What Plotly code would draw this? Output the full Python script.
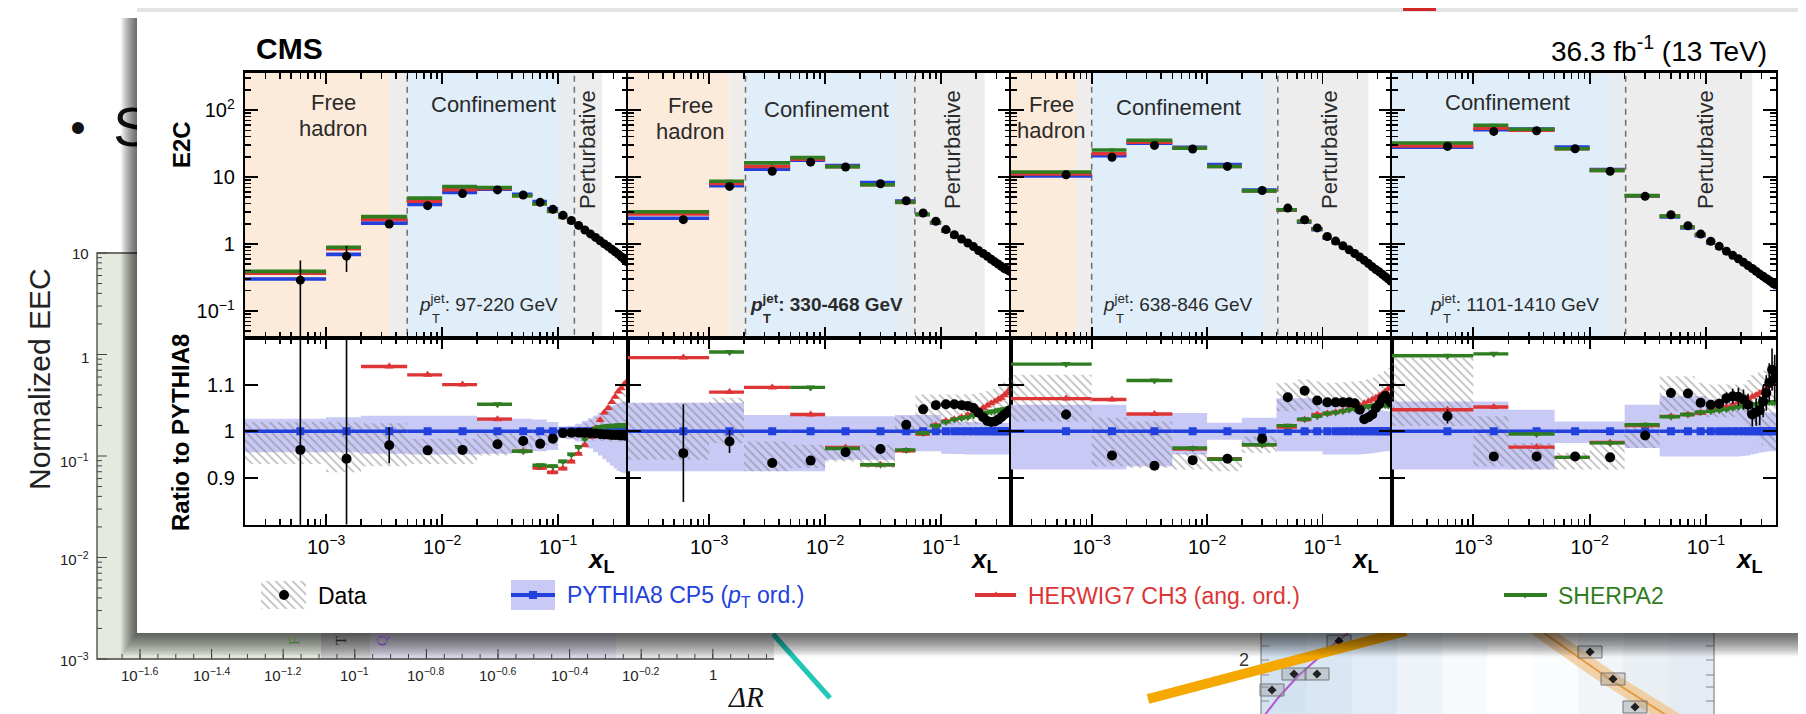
import math
import plotly.graph_objects as go

W, H = 1806, 714
FONT = "Liberation Sans, Arial, Helvetica, sans-serif"

# ------------------------------------------------------------------ data
bin_edges = [0.0002, 0.001, 0.002, 0.005, 0.01, 0.02, 0.04, 0.06, 0.08, 0.10,
             0.12, 0.14, 0.16, 0.18, 0.20, 0.22, 0.24, 0.26, 0.28, 0.30,
             0.32, 0.34, 0.36, 0.38, 0.40]
pt_labels = ["97-220", "330-468", "638-846", "1101-1410"]
x_tick_vals = [1e-3, 1e-2, 1e-1]
x_tick_text = ["10<sup>\u22123</sup>", "10<sup>\u22122</sup>", "10<sup>\u22121</sup>"]
e2c_tick_vals = [0.1, 1, 10, 100]
e2c_tick_text = ["10<sup>\u22121</sup>", "1", "10", "10<sup>2</sup>"]
ratio_tick_vals = [0.9, 1.0, 1.1]
ratio_tick_text = ["0.9", "1", "1.1"]

# PYTHIA8 CP5 E2C (absolute)
pythia_97 = [0.30, 0.70, 2.05, 3.9, 5.9, 6.6, 5.5, 4.3, 3.35, 2.7, 2.25, 1.9, 1.62, 1.42,
             1.26, 1.12, 1.01, 0.92, 0.84, 0.77, 0.71, 0.65, 0.60, 0.55]
pythia_330 = [2.42, 7.4, 13.1, 17.8, 14.8, 8.25, 4.37, 2.77, 2.07, 1.55, 1.30, 1.12, 0.98, 0.87,
              0.77, 0.70, 0.64, 0.58, 0.53, 0.49, 0.45, 0.415, 0.395, 0.373]
pythia_638 = [10.4, 20.8, 32.0, 27.9, 15.3, 6.4, 3.2, 2.12, 1.63, 1.22, 1.04, 0.885, 0.77, 0.68,
              0.61, 0.555, 0.495, 0.44, 0.395, 0.363, 0.33, 0.302, 0.282, 0.263]
pythia_1101 = [27.8, 50.8, 52.0, 28.0, 12.9, 5.2, 2.53, 1.73, 1.33, 1.04, 0.87, 0.73, 0.63, 0.56,
               0.50, 0.45, 0.415, 0.375, 0.34, 0.31, 0.282, 0.258, 0.234, 0.224]

# ratios to PYTHIA8
data_97 = [0.960, 0.941, 0.970, 0.959, 0.960, 0.972, 0.979, 0.973, 0.984, 0.996, 0.997, 0.997,
           0.997, 0.996, 0.995, 0.994, 0.993, 0.993, 0.992, 0.992, 0.992, 0.991, 0.991, 0.990]
data_330 = [0.953, 0.978, 0.932, 0.937, 0.955, 0.962, 1.014, 1.047, 1.056, 1.058, 1.058, 1.056,
            1.054, 1.050, 1.040, 1.030, 1.022, 1.020, 1.021, 1.025, 1.030, 1.036, 1.040, 1.045]
data_638 = [1.036, 0.948, 0.926, 0.938, 0.941, 0.984, 1.073, 1.087, 1.066, 1.062, 1.062, 1.062,
            1.062, 1.060, 1.046, 1.026, 1.030, 1.036, 1.050, 1.058, 1.070, 1.076, 1.068, 1.062]
data_1101 = [1.032, 0.946, 0.946, 0.946, 0.944, 0.991, 1.082, 1.081, 1.061, 1.057, 1.059, 1.071,
             1.075, 1.074, 1.068, 1.057, 1.036, 1.041, 1.045, 1.064, 1.082, 1.104, 1.132, 1.114]

stat_97 = [0.97, 0.42, 0.04, 0.006, 0.005, 0.004, 0.004, 0.004, 0.004, 0.003, 0.003, 0.003,
           0.003, 0.003, 0.003, 0.003, 0.003, 0.003, 0.003, 0.003, 0.003, 0.003, 0.003, 0.003]
stat_330 = [0.11, 0.025, 0.008, 0.005, 0.004, 0.004, 0.004, 0.004, 0.004, 0.004, 0.004, 0.004,
            0.004, 0.004, 0.004, 0.005, 0.005, 0.005, 0.005, 0.005, 0.006, 0.006, 0.006, 0.006]
stat_638 = [0.01, 0.008, 0.006, 0.005, 0.004, 0.004, 0.004, 0.004, 0.004, 0.005, 0.005, 0.005,
            0.005, 0.006, 0.006, 0.006, 0.007, 0.007, 0.008, 0.008, 0.009, 0.009, 0.01, 0.01]
stat_1101 = [0.015, 0.01, 0.006, 0.005, 0.005, 0.005, 0.005, 0.006, 0.007, 0.008, 0.01, 0.012,
             0.015, 0.018, 0.02, 0.022, 0.025, 0.028, 0.03, 0.032, 0.035, 0.038, 0.04, 0.045]

herwig_97 = [1.22, 1.22, 1.139, 1.121, 1.100, 1.026, 0.957, 0.921, 0.912, 0.920, 0.935, 0.952,
             0.970, 0.988, 1.006, 1.024, 1.040, 1.050, 1.063, 1.074, 1.085, 1.092, 1.100, 1.106]
herwig_330 = [1.158, 1.084, 1.094, 1.036, 0.965, 0.928, 0.958, 0.994, 1.013, 1.022, 1.026, 1.030,
              1.035, 1.040, 1.045, 1.050, 1.055, 1.060, 1.064, 1.068, 1.072, 1.077, 1.082, 1.090]
herwig_638 = [1.070, 1.068, 1.037, 0.962, 0.941, 0.971, 1.009, 1.025, 1.036, 1.038, 1.041, 1.044,
              1.048, 1.052, 1.056, 1.060, 1.064, 1.068, 1.072, 1.076, 1.080, 1.085, 1.090, 1.095]
herwig_1101 = [1.046, 1.052, 0.966, 0.944, 0.976, 1.012, 1.032, 1.036, 1.039, 1.045, 1.048, 1.052,
               1.057, 1.062, 1.066, 1.070, 1.074, 1.078, 1.082, 1.086, 1.092, 1.098, 1.104, 1.110]

sherpa_97 = [1.30, 1.28, 1.25, 1.24, 1.22, 1.058, 0.957, 0.927, 0.925, 0.935, 0.950, 0.966,
             0.984, 0.999, 1.006, 1.009, 1.010, 1.011, 1.012, 1.012, 1.013, 1.013, 1.013, 1.013]
sherpa_330 = [1.25, 1.170, 1.24, 1.094, 0.963, 0.928, 0.960, 0.996, 1.012, 1.020, 1.025, 1.028,
              1.030, 1.034, 1.036, 1.038, 1.040, 1.042, 1.043, 1.045, 1.046, 1.047, 1.048, 1.050]
sherpa_638 = [1.144, 1.22, 1.109, 0.964, 0.940, 0.971, 1.012, 1.026, 1.032, 1.038, 1.040, 1.043,
              1.046, 1.048, 1.050, 1.052, 1.053, 1.054, 1.055, 1.056, 1.057, 1.056, 1.055, 1.054]
sherpa_1101 = [1.162, 1.166, 0.994, 0.944, 0.975, 1.014, 1.031, 1.036, 1.041, 1.043, 1.045, 1.047,
               1.050, 1.052, 1.054, 1.056, 1.057, 1.058, 1.059, 1.060, 1.061, 1.062, 1.062, 1.062]

# data systematic band (hatched), ratio units
syst_hi_97 = [1.020, 1.020, 1.017, 0.984, 0.984, 0.999, 0.991, 0.999, 0.999, 1.006, 1.008, 1.012,
              1.018, 1.024, 1.030, 1.037, 1.044, 1.052, 1.060, 1.068, 1.076, 1.084, 1.092, 1.099]
syst_lo_97 = [0.930, 0.912, 0.925, 0.930, 0.930, 0.948, 0.963, 0.970, 0.970, 0.984, 0.983, 0.982,
              0.981, 0.980, 0.980, 0.979, 0.979, 0.978, 0.978, 0.977, 0.977, 0.978, 0.980, 0.984]
syst_hi_330 = [1.061, 1.072, 0.978, 0.971, 0.968, 0.971, 1.032, 1.079, 1.079, 1.079, 1.079, 1.079,
               1.080, 1.080, 1.082, 1.084, 1.086, 1.089, 1.092, 1.096, 1.100, 1.105, 1.110, 1.115]
syst_lo_330 = [0.939, 0.975, 0.914, 0.921, 0.935, 0.921, 0.993, 1.007, 1.007, 1.014, 1.014, 1.014,
               1.014, 1.014, 1.015, 1.016, 1.017, 1.018, 1.019, 1.021, 1.023, 1.025, 1.027, 1.029]
syst_hi_638 = [1.121, 1.029, 1.021, 0.954, 0.943, 0.989, 1.104, 1.111, 1.107, 1.104, 1.104, 1.105,
               1.106, 1.107, 1.108, 1.110, 1.112, 1.115, 1.118, 1.122, 1.126, 1.130, 1.135, 1.139]
syst_lo_638 = [1.021, 0.925, 0.921, 0.918, 0.914, 0.954, 1.043, 1.046, 1.046, 1.054, 1.054, 1.054,
               1.053, 1.052, 1.051, 1.050, 1.050, 1.050, 1.052, 1.054, 1.056, 1.058, 1.060, 1.061]
syst_hi_1101 = [1.157, 1.032, 0.975, 0.954, 0.975, 1.018, 1.118, 1.118, 1.104, 1.100, 1.100, 1.100,
                1.100, 1.100, 1.100, 1.110, 1.120, 1.120, 1.130, 1.130, 1.140, 1.140, 1.150, 1.150]
syst_lo_1101 = [1.011, 0.925, 0.918, 0.918, 0.918, 0.964, 1.043, 1.043, 1.032, 1.030, 1.030, 1.030,
                1.030, 1.030, 1.020, 1.010, 1.000, 0.990, 0.980, 0.970, 0.970, 0.960, 0.960, 0.960]

# PYTHIA8 uncertainty band, ratio units
band_hi_97 = [1.027, 1.030, 1.033, 1.033, 1.033, 1.030, 1.027, 1.025, 1.020, 1.010, 1.012, 1.016,
              1.022, 1.028, 1.034, 1.040, 1.045, 1.050, 1.054, 1.057, 1.060, 1.062, 1.064, 1.065]
band_lo_97 = [0.955, 0.955, 0.952, 0.950, 0.950, 0.952, 0.955, 0.957, 0.960, 0.985, 0.983, 0.978,
              0.970, 0.963, 0.955, 0.948, 0.940, 0.933, 0.926, 0.920, 0.915, 0.912, 0.910, 0.908]
band_hi_330 = [1.061, 1.061, 1.035, 1.035, 1.032, 1.032, 1.035, 1.035, 1.035, 1.020, 1.020, 1.020,
               1.020, 1.020, 1.020, 1.019, 1.019, 1.019, 1.018, 1.018, 1.018, 1.018, 1.018, 1.018]
band_lo_330 = [0.914, 0.914, 0.914, 0.914, 0.939, 0.939, 0.957, 0.957, 0.957, 0.952, 0.951, 0.951,
               0.950, 0.950, 0.950, 0.950, 0.950, 0.950, 0.950, 0.950, 0.950, 0.950, 0.950, 0.950]
band_hi_638 = [1.057, 1.057, 1.039, 1.039, 1.018, 1.029, 1.071, 1.071, 1.071, 1.064, 1.064, 1.064,
               1.064, 1.064, 1.060, 1.056, 1.052, 1.050, 1.048, 1.046, 1.045, 1.044, 1.043, 1.043]
band_lo_638 = [0.918, 0.918, 0.925, 0.950, 0.982, 0.971, 0.957, 0.957, 0.957, 0.950, 0.950, 0.950,
               0.950, 0.950, 0.950, 0.951, 0.952, 0.953, 0.954, 0.955, 0.956, 0.957, 0.957, 0.957]
band_hi_1101 = [1.064, 1.064, 1.046, 1.021, 1.021, 1.057, 1.075, 1.075, 1.075, 1.068, 1.068, 1.068,
                1.068, 1.068, 1.068, 1.066, 1.060, 1.055, 1.050, 1.045, 1.042, 1.040, 1.040, 1.040]
band_lo_1101 = [0.918, 0.918, 0.918, 0.975, 0.975, 0.964, 0.946, 0.946, 0.946, 0.946, 0.946, 0.946,
                0.946, 0.946, 0.947, 0.948, 0.950, 0.952, 0.954, 0.955, 0.956, 0.957, 0.957, 0.957]

# physics regions (x_L values) per pT bin
free_end = [0.0035, 0.0015, 0.00073, None]
confine_start = [0.005, 0.00206, 0.001, None]
confine_end = [0.1, 0.0425, 0.03, 0.015]
pert_start = [0.138, 0.0593, 0.041, 0.0204]
pert_end = [0.24, 0.237, 0.25, 0.25]

pythia = [pythia_97, pythia_330, pythia_638, pythia_1101]
data_r = [data_97, data_330, data_638, data_1101]
stat = [stat_97, stat_330, stat_638, stat_1101]
herwig_r = [herwig_97, herwig_330, herwig_638, herwig_1101]
sherpa_r = [sherpa_97, sherpa_330, sherpa_638, sherpa_1101]
syst_hi = [syst_hi_97, syst_hi_330, syst_hi_638, syst_hi_1101]
syst_lo = [syst_lo_97, syst_lo_330, syst_lo_638, syst_lo_1101]
band_hi = [band_hi_97, band_hi_330, band_hi_638, band_hi_1101]
band_lo = [band_lo_97, band_lo_330, band_lo_638, band_lo_1101]

# ------------------------------------------------------------------ style
BLUE = "#2241DC"
RED = "#DD3535"
GREEN = "#2F7D20"
LAV = "#C9C9F6"
ORANGE_BG = "#FCEBDB"
BLUE_BG = "#E0EEFA"
GRAY_BG = "#EDEDED"
TRANS1 = "#EEEDEB"
TRANS2 = "#E7ECF1"
HATCH = dict(shape="\\", fgcolor="#7A7A7A", bgcolor="rgba(0,0,0,0)", size=6, solidity=0.28)

panel_px = [(237, 620), (620, 1003), (1003, 1384), (1384, 1768)]
TOP_PX = (64.5, 330)
RAT_PX = (330, 516.5)
XR = [math.log10(2e-4), math.log10(0.4)]
YR_TOP = [-1.404, 2.561]

centers = [(bin_edges[i] + bin_edges[i + 1]) / 2 for i in range(len(bin_edges) - 1)]


def seg_xy(vals):
    xs, ys = [], []
    for i, v in enumerate(vals):
        xs += [bin_edges[i], bin_edges[i + 1], None]
        ys += [v, v, None]
    return xs, ys


def rect_xy(lo, hi):
    xs, ys = [], []
    for i in range(len(lo)):
        a, b = bin_edges[i], bin_edges[i + 1]
        xs += [a, b, b, a, a, None]
        ys += [lo[i], lo[i], hi[i], hi[i], lo[i], None]
    return xs, ys


fig = go.Figure()


def bg(**kw):
    kw.setdefault("hoverinfo", "skip")
    kw.setdefault("showlegend", False)
    fig.add_trace(go.Scatter(xaxis="x", yaxis="y", **kw))


def box(x0, y0, x1, y1, color):
    bg(x=[x0, x1, x1, x0, x0], y=[y0, y0, y1, y1, y0], mode="lines", fill="toself",
       fillcolor=color, line=dict(width=0))


# ------------------------------------------------------------------ slide background
# left EEC plot (mostly hidden behind the pasted figure)
box(89, 245, 313, 651, "#E5EADF")
box(313, 245, 362, 651, "#CACACA")
box(362, 245, 608, 651, "#DAD6E5")
box(608, 245, 766, 651, "#E4E4E4")
bg(x=[160, 89, 89, 766], y=[245, 245, 651, 651], mode="lines", line=dict(color="#444", width=1.3))
tx, ty = [], []
for d in range(1, -4, -1):
    yv = 245 + (1 - d) * 101.5
    tx += [89, 99, None]
    ty += [yv, yv, None]
    if d > -3:
        for k in range(2, 10):
            ym = 245 + (1 - (d - 1 + math.log10(k))) * 101.5
            tx += [89, 94, None]
            ty += [ym, ym, None]
for k in range(0, 9):
    xv = 132 + 71.6 * k
    tx += [xv, xv, None]
    ty += [651, 641, None]
for k in range(-1, 36):
    xv = 132 + 17.9 * k
    if 89 < xv < 766:
        tx += [xv, xv, None]
        ty += [651, 646, None]
bg(x=tx, y=ty, mode="lines", line=dict(color="#444", width=1))

# bottom-right plot
grad = ["#D3E2F1", "#D9E6F3", "#E2ECF6", "#EDF3F9", "#F7FAFC", "#FFFFFF", "#FBFCFD",
        "#F2F5F8", "#EAEFF4", "#E5EBF2"]
sw = (1706 - 1253) / len(grad)
for i, c in enumerate(grad):
    box(1253 + i * sw, 600, 1253 + (i + 1) * sw + 0.5, 714, c)
bg(x=[1536 - 14, 1600 - 14, 1669 - 14, 1669 + 16, 1600 + 14, 1536 + 14],
   y=[625, 670, 714, 714, 670, 625], mode="lines", fill="toself",
   fillcolor="rgba(240,196,140,0.75)", line=dict(width=0))
bg(x=[1536, 1600, 1669], y=[625, 670, 714], mode="lines", line=dict(color="#E39A3C", width=2))
bg(x=[1256, 1270, 1290, 1310, 1325, 1340], y=[708, 690, 668, 650, 637, 625], mode="lines",
   line=dict(color="#B553D3", width=2))
deco_pts_x = [1264, 1286, 1309, 1331, 1582, 1605, 1627]
deco_pts_y = [682, 666, 666, 633, 644, 671, 699]
bx, byy = [], []
for xv, yv in zip(deco_pts_x, deco_pts_y):
    bx += [xv - 12, xv + 12, xv + 12, xv - 12, xv - 12, None]
    byy += [yv - 6, yv - 6, yv + 6, yv + 6, yv - 6, None]
bg(x=bx, y=byy, mode="lines", fill="toself", fillcolor="rgba(150,150,150,0.35)",
   line=dict(color="#777", width=1))
bg(x=deco_pts_x, y=deco_pts_y, mode="markers", marker=dict(color="#222", size=7, symbol="diamond"))
bg(x=[1253, 1253, None, 1706, 1706], y=[600, 714, None, 600, 714], mode="lines",
   line=dict(color="#888", width=1.2))
tkx, tky = [], []
for yv in [638, 652, 667, 679, 693, 708]:
    tkx += [1253, 1261, None, 1706, 1698, None]
    tky += [yv, yv, None, yv, yv, None]
bg(x=tkx, y=tky, mode="lines", line=dict(color="#888", width=1))

# arrows / strokes
bg(x=[765, 822], y=[626, 690], mode="lines", line=dict(color="#22C7B8", width=5))
bg(x=[1140, 1398], y=[691, 623], mode="lines", line=dict(color="#F4A800", width=10))

# bullet text (partially hidden by the pasted figure)
bg(x=[70], y=[124], mode="text", text=["\u2022"], textfont=dict(size=44, color="#111", family=FONT))
bg(x=[124], y=[124], mode="text", text=["S"], textfont=dict(size=56, color="#111", family=FONT))

# drop shadow of the pasted figure
for k in range(1, 19):
    bg(x=[129 - k * 0.9, 1806, 1806, 129 - k * 0.9, 129 - k * 0.9],
       y=[10, 10, 625 + k * 1.3, 625 + k * 1.3, 10], mode="lines", fill="toself",
       fillcolor="rgba(0,0,0,0.045)", line=dict(width=0))
box(129, 0, 1806, 5, "#E3E3E3")
box(1395, 0, 1428, 3, "#D02828")
box(129, 4, 1806, 625, "#FFFFFF")

# legend symbols
bg(x=[253, 298, 298, 253, 253], y=[573, 573, 601, 601, 573], mode="lines", fill="toself",
   fillcolor="rgba(0,0,0,0)", line=dict(width=0), fillpattern=HATCH)
bg(x=[276], y=[587], mode="markers", marker=dict(color="black", size=10))
box(503, 572, 547, 602, LAV)
bg(x=[503, 547], y=[587, 587], mode="lines", line=dict(color=BLUE, width=4))
bg(x=[525], y=[587], mode="markers", marker=dict(color=BLUE, size=8, symbol="square"))
bg(x=[967, 1008], y=[587, 587], mode="lines", line=dict(color=RED, width=4))
bg(x=[988], y=[587], mode="markers", marker=dict(color=RED, size=7, symbol="triangle-up"))
bg(x=[1496, 1539], y=[587, 587], mode="lines", line=dict(color=GREEN, width=4))
bg(x=[1517], y=[587], mode="markers", marker=dict(color=GREEN, size=7, symbol="triangle-down"))

# ------------------------------------------------------------------ CMS panels
for i in range(4):
    nt, nr = 2 + i, 6 + i
    xt, yt, xr, yr = f"x{nt}", f"y{nt}", f"x{nr}", f"y{nr}"

    def top(**kw):
        kw.setdefault("hoverinfo", "skip")
        kw.setdefault("showlegend", False)
        fig.add_trace(go.Scatter(xaxis=xt, yaxis=yt, **kw))

    def rat(**kw):
        kw.setdefault("hoverinfo", "skip")
        kw.setdefault("showlegend", False)
        fig.add_trace(go.Scatter(xaxis=xr, yaxis=yr, **kw))

    ylo, yhi = 1e-3, 1e4
    regions = []
    if free_end[i] is not None:
        regions.append((1e-4, free_end[i], ORANGE_BG))
        regions.append((free_end[i], confine_start[i], TRANS1))
        regions.append((confine_start[i], confine_end[i], BLUE_BG))
    else:
        regions.append((1e-4, confine_end[i], BLUE_BG))
    regions.append((confine_end[i], pert_start[i], TRANS2))
    regions.append((pert_start[i], pert_end[i], GRAY_BG))
    for a, b, c in regions:
        top(x=[a, b, b, a, a], y=[ylo, ylo, yhi, yhi, ylo], mode="lines", fill="toself",
            fillcolor=c, line=dict(width=0))
    dashes = [d for d in (confine_start[i], pert_start[i]) if d is not None]
    for d in dashes:
        top(x=[d, d], y=[ylo, yhi], mode="lines", line=dict(color="#6E6E6E", width=1.5, dash="6px,5px"))

    py_ = pythia[i]
    her = [p * r for p, r in zip(py_, herwig_r[i])]
    she = [p * r for p, r in zip(py_, sherpa_r[i])]
    dat = [p * r for p, r in zip(py_, data_r[i])]
    for vals, col in ((py_, BLUE), (her, RED), (she, GREEN)):
        sx, sy = seg_xy(vals)
        top(x=sx, y=sy, mode="lines", line=dict(color=col, width=3.6))
    top(x=centers, y=she, mode="markers", marker=dict(color=GREEN, size=6, symbol="triangle-down"))
    top(x=centers, y=dat, mode="markers", marker=dict(color="black", size=9),
        error_y=dict(type="data", array=[d * s for d, s in zip(dat, stat[i])], color="black",
                     thickness=1.6, width=0))

    # ratio panel
    bx_, by_ = rect_xy(band_lo[i], band_hi[i])
    rat(x=bx_, y=by_, mode="lines", fill="toself", fillcolor=LAV, line=dict(width=0))
    hx, hy = rect_xy(syst_lo[i], syst_hi[i])
    rat(x=hx, y=hy, mode="lines", fill="toself", fillcolor="rgba(0,0,0,0)", line=dict(width=0),
        fillpattern=HATCH)
    ones = [1.0] * len(centers)
    sx, sy = seg_xy(ones)
    rat(x=sx, y=sy, mode="lines", line=dict(color=BLUE, width=3.6))
    rat(x=centers, y=ones, mode="markers", marker=dict(color=BLUE, size=8, symbol="square"))
    for vals, col, sym in ((herwig_r[i], RED, "triangle-up"), (sherpa_r[i], GREEN, "triangle-down")):
        sx, sy = seg_xy(vals)
        rat(x=sx, y=sy, mode="lines", line=dict(color=col, width=3.4))
        rat(x=centers, y=vals, mode="markers", marker=dict(color=col, size=8, symbol=sym))
    rat(x=centers, y=data_r[i], mode="markers", marker=dict(color="black", size=10),
        error_y=dict(type="data", array=[d * s for d, s in zip(data_r[i], stat[i])], color="black",
                     thickness=1.6, width=0))

# ------------------------------------------------------------------ layout
layout = dict(width=W, height=H, autosize=False, margin=dict(l=0, r=0, t=0, b=0, pad=0),
              paper_bgcolor="white", plot_bgcolor="rgba(0,0,0,0)", showlegend=False,
              hovermode=False)
layout["xaxis"] = dict(domain=[0, 1], range=[0, W], visible=False, fixedrange=True)
layout["yaxis"] = dict(domain=[0, 1], range=[H, 0], visible=False, fixedrange=True)

x_minor = [k * 10.0 ** e for e in (-4, -3, -2, -1) for k in range(2, 10)
           if 2.05e-4 < k * 10.0 ** e < 0.395]
y_minor = [k * 10.0 ** e for e in (-2, -1, 0, 1, 2) for k in range(2, 10)
           if 0.04 <= k * 10.0 ** e <= 360]
tickfont = dict(family=FONT, size=20, color="black")
common = dict(showline=True, linecolor="black", linewidth=2.2, mirror="allticks", ticks="inside",
              tickcolor="black", showgrid=False, zeroline=False, fixedrange=True,
              tickfont=tickfont, tickmode="array")
for i in range(4):
    nt, nr = 2 + i, 6 + i
    xd = [panel_px[i][0] / W, panel_px[i][1] / W]
    xa = dict(common, type="log", range=XR, tickvals=x_tick_vals, ticktext=x_tick_text,
              ticklen=11, tickwidth=1.8, ticklabelstandoff=3,
              minor=dict(tickmode="array", tickvals=x_minor, ticks="inside", ticklen=6,
                         tickwidth=1.4, tickcolor="black"))
    layout[f"xaxis{nt}"] = dict(xa, domain=xd, anchor=f"y{nt}", showticklabels=False)
    layout[f"xaxis{nr}"] = dict(xa, domain=xd, anchor=f"y{nr}", showticklabels=True)
    layout[f"yaxis{nt}"] = dict(common, type="log", range=YR_TOP, domain=[1 - TOP_PX[1] / H, 1 - TOP_PX[0] / H],
                                anchor=f"x{nt}", tickvals=e2c_tick_vals, ticktext=e2c_tick_text,
                                ticklen=13, tickwidth=1.8, ticklabelstandoff=4,
                                showticklabels=(i == 0),
                                minor=dict(tickmode="array", tickvals=y_minor, ticks="inside",
                                           ticklen=6, tickwidth=1.4, tickcolor="black"))
    layout[f"yaxis{nr}"] = dict(common, range=[0.8, 1.2], domain=[1 - RAT_PX[1] / H, 1 - RAT_PX[0] / H],
                                anchor=f"x{nr}", tickvals=ratio_tick_vals, ticktext=ratio_tick_text,
                                ticklen=13, tickwidth=1.8, ticklabelstandoff=4,
                                showticklabels=(i == 0))


def A(text, x, y, size, color="#222", xanchor="center", yanchor="middle", angle=0, family=FONT):
    return dict(text=text, x=x / W, y=1 - y / H, xref="paper", yref="paper", showarrow=False,
                xanchor=xanchor, yanchor=yanchor, textangle=angle,
                font=dict(family=family, size=size, color=color))


ann = []
# slide background text
ann.append(A("Normalized EEC", 31, 371, 30, "#222", angle=-90))
for lab, yv in (("10", 245), ("1", 349), ("10<sup>\u22121</sup>", 452), ("10<sup>\u22122</sup>", 550),
                ("10<sup>\u22123</sup>", 651)):
    ann.append(A(lab, 83, yv, 15, "#222", xanchor="right"))
xl = ["10<sup>\u22121.6</sup>", "10<sup>\u22121.4</sup>", "10<sup>\u22121.2</sup>", "10<sup>\u22121</sup>",
      "10<sup>\u22120.8</sup>", "10<sup>\u22120.6</sup>", "10<sup>\u22120.4</sup>", "10<sup>\u22120.2</sup>", "1"]
for k, lab in enumerate(xl):
    ann.append(A(lab, 132 + 71.6 * k, 666, 15, "#222"))
ann.append(A("<i>\u0394R</i>", 738, 689, 29, "#111", family="Liberation Serif, DejaVu Serif, serif"))
ann.append(A("2", 1243, 652, 18, "#333", xanchor="right"))
ann.append(A("F", 286, 633, 15, "#3E7A2E", angle=-90, family="Liberation Serif, serif"))
ann.append(A("T", 333, 633, 15, "#222", angle=-90, family="Liberation Serif, serif"))
ann.append(A("Q", 374, 633, 15, "#6A3DA3", angle=-90, family="Liberation Serif, serif"))

# CMS header
ann.append(A("<b>CMS</b>", 246, 40, 30, "black", xanchor="left"))
ann.append(A("36.3 fb<sup>-1</sup> (13 TeV)", 1761, 41, 28, "black", xanchor="right"))
ann.append(A("<b>E2C</b>", 173, 137, 24, "black", angle=-90))
ann.append(A("<b>Ratio to PYTHIA8</b>", 172, 425, 24, "black", angle=-90))
for i in range(4):
    ann.append(A("<b><i>x</i></b><sub><b>L</b></sub>", panel_px[i][1] - 27, 552, 26, "black"))

# region labels
RC = "#2a2a2a"
free_pos = [(325, 95), (682, 98), (1043, 97)]
for (xv, yv) in free_pos:
    ann.append(A("Free", xv, yv, 22, RC))
    ann.append(A("hadron", xv, yv + 25, 22, RC))
for (xv, yv) in [(485, 97), (818, 102), (1170, 100), (1499, 95)]:
    ann.append(A("Confinement", xv, yv, 22, RC))
for xv in [580, 945, 1322, 1698]:
    ann.append(A("Perturbative", xv, 142, 22, RC, angle=-90))
pt_x = [409, 740, 1093, 1420]
for i in range(4):
    body = f"{pt_labels[i]} GeV"
    txt = f"<i>p</i><sup>jet</sup>: {body}"
    if i == 1:
        txt = f"<b><i>p</i><sup>jet</sup>: {body}</b>"
    ann.append(A(txt, pt_x[i], 295, 19, RC, xanchor="left"))
    ann.append(A("<b>T</b>" if i == 1 else "T", pt_x[i] + 13, 310, 13, RC, xanchor="left"))

# legend text
ann.append(A("Data", 308, 588, 23, "black", xanchor="left"))
ann.append(A("PYTHIA8 CP5 (<i>p</i><sub>T</sub> ord.)", 557, 588, 23, BLUE, xanchor="left"))
ann.append(A("HERWIG7 CH3 (ang. ord.)", 1018, 588, 23, RED, xanchor="left"))
ann.append(A("SHERPA2", 1548, 588, 23, GREEN, xanchor="left"))

layout["annotations"] = ann
fig.update_layout(**layout)
fig.write_html("out.html", config={"displayModeBar": False, "staticPlot": True})
